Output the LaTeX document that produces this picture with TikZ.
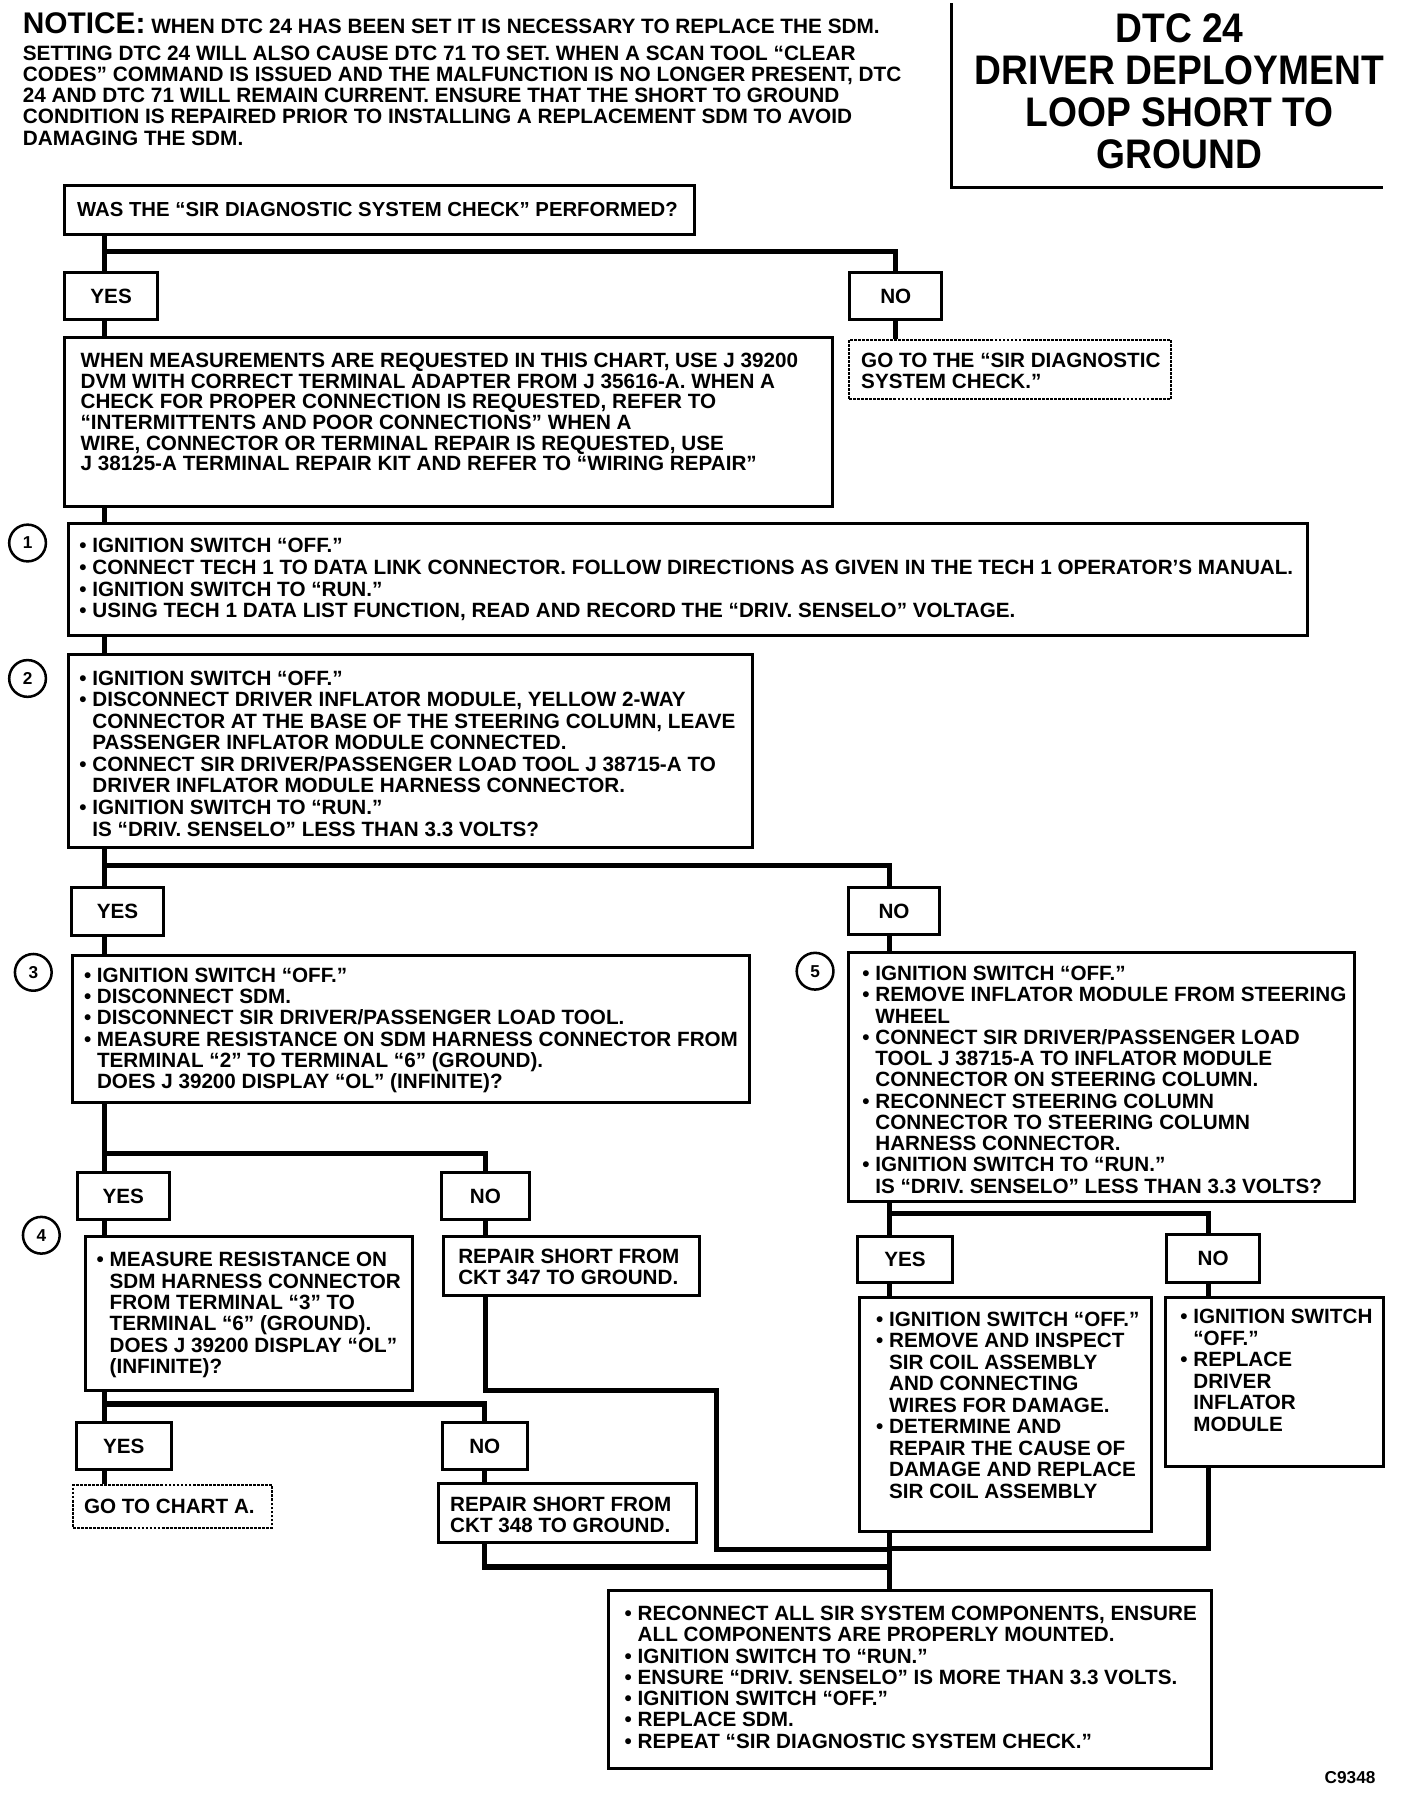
\documentclass[tikz,border=0pt]{standalone}
\usepackage{fontspec}
\setmainfont{Liberation Sans}
\newfontfamily\titlefont[FakeStretch=0.9]{Liberation Sans}

\newcommand{\bul}{•\ }
\newcommand{\cont}{\hphantom{•\ }}

\tikzset{
  frame/.style={draw, line width=2.6pt, anchor=north west, inner sep=0pt},
  dashframe/.style={draw, line width=1.6pt, dash pattern=on 2.5pt off 1pt, anchor=north west, inner sep=0pt},
  answer/.style={draw, line width=2.6pt, anchor=north west, inner sep=0pt, font=\fontsize{18}{18.5}\selectfont\bfseries},
  boxtext/.style={anchor=north west, inner sep=0pt, align=left, font=\fontsize{18}{18.5}\selectfont\bfseries},
  stepnum/.style={draw, circle, line width=2.2pt, minimum size=32pt, inner sep=0pt, font=\fontsize{15}{15}\selectfont\bfseries},
  link/.style={line width=4.6pt},
}

\begin{document}
\begin{tikzpicture}[x=1pt, y=-1pt]
    \useasboundingbox (0,0) rectangle (1226.5,1569.7);

    \node[anchor=north west, inner sep=0pt, align=left, font=\fontsize{18.1}{18.5}\selectfont\bfseries] (notice) at (19.7,11)
        {{\fontsize{26}{26}\selectfont NOTICE:} WHEN DTC 24 HAS BEEN SET IT IS NECESSARY TO REPLACE THE SDM.\\[4.5pt]
         SETTING DTC 24 WILL ALSO CAUSE DTC 71 TO SET. WHEN A SCAN TOOL “CLEAR\\
         CODES” COMMAND IS ISSUED AND THE MALFUNCTION IS NO LONGER PRESENT, DTC\\
         24 AND DTC 71 WILL REMAIN CURRENT. ENSURE THAT THE SHORT TO GROUND\\
         CONDITION IS REPAIRED PRIOR TO INSTALLING A REPLACEMENT SDM TO AVOID\\
         DAMAGING THE SDM.};
    \draw[line width=2.6pt] (829,3) |- (1205,163);
    \node[anchor=north, inner sep=0pt, align=center, font=\titlefont\bfseries\fontsize{36}{36.5}\selectfont] (title) at (1027.5,12.1)
        {DTC 24\\ DRIVER DEPLOYMENT\\ LOOP SHORT TO\\ GROUND};

    \node[frame, minimum width=549pt, minimum height=43pt] (q0) at (55,160) {};
    \node[boxtext, font=\fontsize{17.7}{18.5}\selectfont\bfseries] (q0t) at ([shift={(12,16)}]q0.north west) {WAS THE “SIR DIAGNOSTIC SYSTEM CHECK” PERFORMED?};

    \node[answer, minimum width=81pt, minimum height=41pt] (yes1) at (55,236) {YES};
    \node[answer, minimum width=80pt, minimum height=41pt] (no1) at (739,236) {NO};

    \node[frame, minimum width=669pt, minimum height=147pt] (info) at (55,293) {};
    \node[boxtext, font=\fontsize{18}{18}\selectfont\bfseries] (infot) at ([shift={(15,14.3)}]info.north west)
        {WHEN MEASUREMENTS ARE REQUESTED IN THIS CHART, USE J 39200\\
         DVM WITH CORRECT TERMINAL ADAPTER FROM J 35616-A. WHEN A\\
         CHECK FOR PROPER CONNECTION IS REQUESTED, REFER TO\\
         “INTERMITTENTS AND POOR CONNECTIONS” WHEN A\\
         WIRE, CONNECTOR OR TERMINAL REPAIR IS REQUESTED, USE\\
         J 38125-A TERMINAL REPAIR KIT AND REFER TO “WIRING REPAIR”};

    \node[dashframe, minimum width=280pt, minimum height=52pt] (gosc) at (739,295) {};
    \node[boxtext, font=\fontsize{18}{17.8}\selectfont\bfseries] (gosct) at ([shift={(11,12.7)}]gosc.north west)
        {GO TO THE “SIR DIAGNOSTIC\\ SYSTEM CHECK.”};

    \node[stepnum] (c1) at (24,473) {1};
    \node[frame, minimum width=1080pt, minimum height=97pt] (s1) at (58,455) {};
    \node[boxtext, font=\fontsize{18}{18.8}\selectfont\bfseries] (s1t) at ([shift={(11,13.8)}]s1.north west)
        {\bul IGNITION SWITCH “OFF.”\\
         \bul CONNECT TECH 1 TO DATA LINK CONNECTOR. FOLLOW DIRECTIONS AS GIVEN IN THE TECH 1 OPERATOR’S MANUAL.\\
         \bul IGNITION SWITCH TO “RUN.”\\
         \bul USING TECH 1 DATA LIST FUNCTION, READ AND RECORD THE “DRIV. SENSELO” VOLTAGE.};

    \node[stepnum] (c2) at (24,591) {2};
    \node[frame, minimum width=596pt, minimum height=168pt] (s2) at (58,569) {};
    \node[boxtext, font=\fontsize{18}{18.75}\selectfont\bfseries] (s2t) at ([shift={(11,15.2)}]s2.north west)
        {\bul IGNITION SWITCH “OFF.”\\
         \bul DISCONNECT DRIVER INFLATOR MODULE, YELLOW 2-WAY\\
         \cont CONNECTOR AT THE BASE OF THE STEERING COLUMN, LEAVE\\
         \cont PASSENGER INFLATOR MODULE CONNECTED.\\
         \bul CONNECT SIR DRIVER/PASSENGER LOAD TOOL J 38715-A TO\\
         \cont DRIVER INFLATOR MODULE HARNESS CONNECTOR.\\
         \bul IGNITION SWITCH TO “RUN.”\\
         \cont IS “DRIV. SENSELO” LESS THAN 3.3 VOLTS?};

    \node[answer, minimum width=80pt, minimum height=42pt] (yes2) at (61,772) {YES};
    \node[answer, minimum width=79pt, minimum height=41pt] (no2) at (738,772) {NO};

    \node[stepnum] (c3) at (29,847) {3};
    \node[frame, minimum width=590pt, minimum height=128pt] (s3) at (62,831) {};
    \node[boxtext, font=\fontsize{18}{18.6}\selectfont\bfseries] (s3t) at ([shift={(11,11.7)}]s3.north west)
        {\bul IGNITION SWITCH “OFF.”\\
         \bul DISCONNECT SDM.\\
         \bul DISCONNECT SIR DRIVER/PASSENGER LOAD TOOL.\\
         \bul MEASURE RESISTANCE ON SDM HARNESS CONNECTOR FROM\\
         \cont TERMINAL “2” TO TERMINAL “6” (GROUND).\\
         \cont DOES J 39200 DISPLAY “OL” (INFINITE)?};

    \node[stepnum] (c5) at (710,846) {5};
    \node[frame, minimum width=441pt, minimum height=217pt] (s5) at (738,828) {};
    \node[boxtext, font=\fontsize{18}{18.5}\selectfont\bfseries] (s5t) at ([shift={(13,13.5)}]s5.north west)
        {\bul IGNITION SWITCH “OFF.”\\
         \bul REMOVE INFLATOR MODULE FROM STEERING\\
         \cont WHEEL\\
         \bul CONNECT SIR DRIVER/PASSENGER LOAD\\
         \cont TOOL J 38715-A TO INFLATOR MODULE\\
         \cont CONNECTOR ON STEERING COLUMN.\\
         \bul RECONNECT STEERING COLUMN\\
         \cont CONNECTOR TO STEERING COLUMN\\
         \cont HARNESS CONNECTOR.\\
         \bul IGNITION SWITCH TO “RUN.”\\
         \cont IS “DRIV. SENSELO” LESS THAN 3.3 VOLTS?};

    \node[answer, minimum width=80pt, minimum height=41pt] (yes3) at (66,1020) {YES};
    \node[answer, minimum width=77pt, minimum height=41pt] (no3) at (383,1020) {NO};

    \node[stepnum] (c4) at (36,1076) {4};
    \node[frame, minimum width=285pt, minimum height=134pt] (s4) at (73,1076) {};
    \node[boxtext, font=\fontsize{18}{18.7}\selectfont\bfseries] (s4t) at ([shift={(11,14.5)}]s4.north west)
        {\bul MEASURE RESISTANCE ON\\
         \cont SDM HARNESS CONNECTOR\\
         \cont FROM TERMINAL “3” TO\\
         \cont TERMINAL “6” (GROUND).\\
         \cont DOES J 39200 DISPLAY “OL”\\
         \cont (INFINITE)?};

    \node[frame, minimum width=223pt, minimum height=51pt] (r347) at (385,1076) {};
    \node[boxtext, font=\fontsize{18}{19}\selectfont\bfseries] (r347t) at ([shift={(14,11.5)}]r347.north west)
        {REPAIR SHORT FROM\\ CKT 347 TO GROUND.};

    \node[answer, minimum width=83pt, minimum height=41pt] (yes4) at (65,1238) {YES};
    \node[answer, minimum width=74pt, minimum height=41pt] (no4) at (384,1238) {NO};

    \node[dashframe, minimum width=173pt, minimum height=37pt] (charta) at (63,1293) {};
    \node[boxtext] (chartat) at ([shift={(10,13)}]charta.north west) {GO TO CHART A.};

    \node[frame, minimum width=224pt, minimum height=51pt] (r348) at (381,1291) {};
    \node[boxtext, font=\fontsize{18}{18}\selectfont\bfseries] (r348t) at ([shift={(11,13)}]r348.north west)
        {REPAIR SHORT FROM\\ CKT 348 TO GROUND.};

    \node[answer, minimum width=82pt, minimum height=40pt] (yes5) at (746,1076) {YES};
    \node[answer, minimum width=81pt, minimum height=42pt] (no5) at (1015,1074) {NO};

    \node[frame, minimum width=255pt, minimum height=204pt] (y5) at (747,1129) {};
    \node[boxtext, font=\fontsize{18}{18.7}\selectfont\bfseries] (y5t) at ([shift={(16,13.7)}]y5.north west)
        {\bul IGNITION SWITCH “OFF.”\\
         \bul REMOVE AND INSPECT\\
         \cont SIR COIL ASSEMBLY\\
         \cont AND CONNECTING\\
         \cont WIRES FOR DAMAGE.\\
         \bul DETERMINE AND\\
         \cont REPAIR THE CAUSE OF\\
         \cont DAMAGE AND REPLACE\\
         \cont SIR COIL ASSEMBLY};

    \node[frame, minimum width=190pt, minimum height=147pt] (n5) at (1014,1129) {};
    \node[boxtext, font=\fontsize{18}{18.85}\selectfont\bfseries] (n5t) at ([shift={(14,11)}]n5.north west)
        {\bul IGNITION SWITCH\\
         \cont “OFF.”\\
         \bul REPLACE\\
         \cont DRIVER\\
         \cont INFLATOR\\
         \cont MODULE};

    \node[frame, minimum width=525pt, minimum height=155pt] (fin) at (529,1384) {};
    \node[boxtext, font=\fontsize{18}{18.5}\selectfont\bfseries] (fint) at ([shift={(15,15)}]fin.north west)
        {\bul RECONNECT ALL SIR SYSTEM COMPONENTS, ENSURE\\
         \cont ALL COMPONENTS ARE PROPERLY MOUNTED.\\
         \bul IGNITION SWITCH TO “RUN.”\\
         \bul ENSURE “DRIV. SENSELO” IS MORE THAN 3.3 VOLTS.\\
         \bul IGNITION SWITCH “OFF.”\\
         \bul REPLACE SDM.\\
         \bul REPEAT “SIR DIAGNOSTIC SYSTEM CHECK.”};

    \node[font=\fontsize{15}{15}\selectfont\bfseries] (code) at (1176,1548) {C9348};

    \coordinate (j1) at (91,219);
    \coordinate (j2) at (91,754);
    \coordinate (j3) at (91,1005);
    \coordinate (j4) at (91,1223);
    \coordinate (j5) at (775,1057);
    \coordinate (k5) at (1053,1349);
    \coordinate (m1) at (624,1211);
    \coordinate (m2) at (775,1350);
    \coordinate (m3) at (775,1365);

    \draw[link] (q0.south -| j1) -- (yes1.north -| j1);
    \draw[link] (j1) -| (no1.north);
    \draw[link] (yes1.south -| j1) -- (info.north -| j1);
    \draw[link] (no1.south) -- (gosc.north -| no1.south);
    \draw[link] (info.south -| j1) -- (s1.north -| j1);
    \draw[link] (s1.south -| j1) -- (s2.north -| j1);
    \draw[link] (s2.south -| j2) -- (yes2.north -| j2);
    \draw[link] (j2) -| (no2.north -| j5);
    \draw[link] (yes2.south -| j2) -- (s3.north -| j2);
    \draw[link] (no2.south -| j5) -- (s5.north -| j5);
    \draw[link] (s3.south -| j3) -- (yes3.north -| j3);
    \draw[link] (j3) -| (no3.north);
    \draw[link] (yes3.south -| j3) -- (s4.north -| j3);
    \draw[link] (no3.south) -- (r347.north -| no3.south);
    \draw[link] (s4.south -| j4) -- (yes4.north -| j4);
    \draw[link] (j4) -| (no4.north);
    \draw[link] (yes4.south -| j4) -- (charta.north -| j4);
    \draw[link] (no4.south) -- (r348.north -| no4.south);
    \draw[link] (s5.south -| j5) -- (yes5.north -| j5);
    \draw[link] (j5) -| (no5.north -| k5);
    \draw[link] (yes5.south -| j5) -- (y5.north -| j5);
    \draw[link] (no5.south -| k5) -- (n5.north -| k5);
    \draw[link] (y5.south -| j5) -- (fin.north -| j5);
    \draw[link] (n5.south -| k5) -- (k5) -- (k5 -| j5);
    \draw[link] (r347.south -| no3.south) |- (m1) |- (m2);
    \draw[link] (r348.south -| no4.south) |- (m3);
\end{tikzpicture}
\end{document}
